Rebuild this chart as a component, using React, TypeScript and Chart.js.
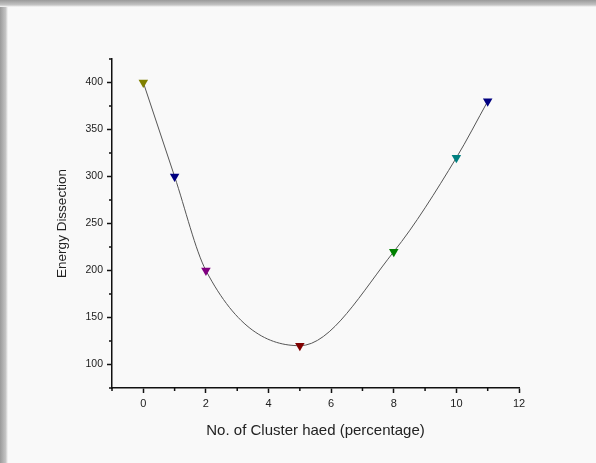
import React, { useEffect, useRef } from "react";
import { Chart, registerables } from "chart.js";

Chart.register(...registerables);

const xValues = [0, 1, 2, 5, 8, 10, 11];
const yValues = [400, 300, 200, 120, 220, 320, 380];
const markerColors = ["#808000", "#000080", "#800080", "#800000", "#008000", "#008080", "#000080"];
const xTicks = [0, 2, 4, 6, 8, 10, 12];
const xMinorTicks = [-1, 1, 3, 5, 7, 9, 11];
const yTicks = [100, 150, 200, 250, 300, 350, 400];
const yMinorTicks = [75, 125, 175, 225, 275, 325, 375, 425];
const xTitle = "No. of Cluster haed (percentage)";
const yTitle = "Energy Dissection";

const FONT = "'Liberation Sans', Arial, sans-serif";

const minorTicksPlugin = {
  id: "minorTicks",
  afterDraw(chart: any) {
    const ctx = chart.ctx;
    const xs = chart.scales.x;
    const ys = chart.scales.y;
    const { left, bottom } = chart.chartArea;
    ctx.save();
    ctx.strokeStyle = "#111";
    ctx.lineWidth = 1.5;
    ctx.beginPath();
    xMinorTicks.forEach((v) => {
      const p = xs.getPixelForValue(v);
      ctx.moveTo(p, bottom);
      ctx.lineTo(p, bottom + 3);
    });
    yMinorTicks.forEach((v) => {
      const p = ys.getPixelForValue(v);
      ctx.moveTo(left, p);
      ctx.lineTo(left - 3, p);
    });
    ctx.stroke();
    ctx.restore();
  },
};

export default function App() {
  const ref = useRef<HTMLCanvasElement | null>(null);

  useEffect(() => {
    if (!ref.current) return;
    const data = xValues.map((x, i) => ({ x, y: yValues[i] }));
    const chart = new Chart(ref.current, {
      type: "scatter",
      data: {
        datasets: [
          {
            data,
            showLine: true,
            cubicInterpolationMode: "monotone",
            tension: 0.4,
            borderColor: "#555",
            borderWidth: 1,
            pointStyle: "triangle",
            rotation: 180,
            pointRadius: 5.5,
            pointBackgroundColor: markerColors,
            pointBorderColor: markerColors,
            pointBorderWidth: 0,
          } as any,
        ],
      },
      options: {
        animation: false,
        responsive: false,
        devicePixelRatio: 1,
        layout: { padding: { left: 0, right: 77, top: 59, bottom: 0 } },
        plugins: { legend: { display: false }, tooltip: { enabled: false } },
        scales: {
          x: {
            type: "linear",
            min: -1,
            max: 12,
            afterBuildTicks: (s: any) => {
              s.ticks = xTicks.map((v) => ({ value: v }));
            },
            afterFit: (s: any) => {
              s.height = 75;
            },
            grid: { drawOnChartArea: false, drawTicks: true, tickLength: 5, tickColor: "#111", tickWidth: 1.5 },
            border: { display: true, color: "#111", width: 1.5 },
            ticks: { color: "#222", font: { family: FONT, size: 11 }, padding: 4, maxRotation: 0 },
            title: {
              display: true,
              text: xTitle,
              color: "#222",
              font: { family: FONT, size: 15 },
              padding: { top: 0, bottom: 23 },
            },
          },
          y: {
            type: "linear",
            min: 75,
            max: 425,
            afterBuildTicks: (s: any) => {
              s.ticks = yTicks.map((v) => ({ value: v }));
            },
            afterFit: (s: any) => {
              s.width = 112;
            },
            grid: { drawOnChartArea: false, drawTicks: true, tickLength: 5, tickColor: "#111", tickWidth: 1.5 },
            border: { display: true, color: "#111", width: 1.5 },
            ticks: { color: "#222", font: { family: FONT, size: 10.5 }, padding: 4 },
            title: {
              display: true,
              text: yTitle,
              color: "#222",
              font: { family: FONT, size: 13.5 },
              padding: { top: 54, bottom: 0 },
            },
          },
        },
      },
      plugins: [minorTicksPlugin],
    });
    return () => chart.destroy();
  }, []);

  return (
    <div
      style={{
        position: "fixed",
        left: 0,
        top: 0,
        width: 596,
        height: 463,
        background: "#f9f9f9",
        overflow: "hidden",
      }}
    >
      <div
        style={{
          position: "absolute",
          left: 0,
          top: 0,
          width: 8,
          height: "100%",
          background: "linear-gradient(to right, #9a9a9a, #c4c4c4 70%, #f9f9f9)",
        }}
      />
      <div
        style={{
          position: "absolute",
          left: 0,
          top: 0,
          height: 7,
          width: "100%",
          background: "linear-gradient(to bottom, #9a9a9a, #c4c4c4 70%, #f9f9f9)",
        }}
      />
      <canvas
        ref={ref}
        width={596}
        height={463}
        style={{ position: "absolute", left: 0, top: 0, width: 596, height: 463 }}
      />
    </div>
  );
}
